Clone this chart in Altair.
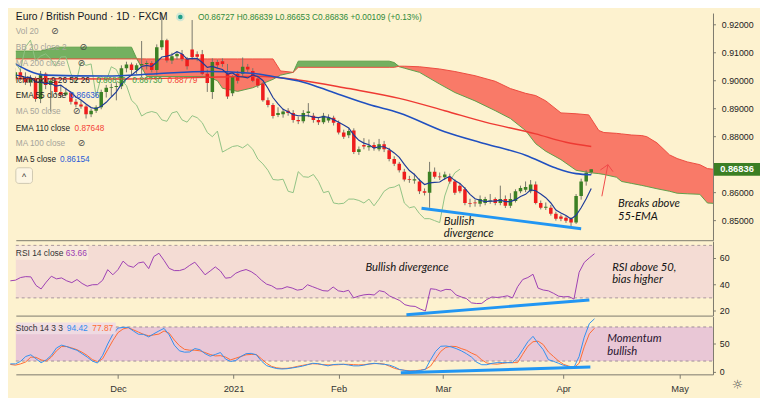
import altair as alt
import pandas as pd

# ---------------- values ----------------
# bar index = trading day, 0 = 2 Nov 2020 ... 114 = 9 Apr 2021
bar_idx = list(range(115))

opens = [
    .9010, .9030, .9012, .8995, .9010, .8935, .9025, .8985, .9000, .8960,
    .8950, .8958, .8925, .8915, .8908, .8880, .8893, .8905, .8960, .8975,
    .8978, .8980, .9045, .9058, .9038, .9055, .9060, .9063, .9038, .9120,
    .9145, .9072, .9088, .9096, .9078, .9112, .9095, .9095, .9025, .8960,
    .9067, .9070, .9025, .8955, .9025, .9025, .9050, .9035, .9008, .8990,
    .8930, .8913, .8878, .8880, .8893, .8885, .8860, .8855, .8885, .8875,
    .8860, .8852, .8858, .8868, .8850, .8815, .8805, .8822, .8745, .8770,
    .8762, .8770, .8755, .8773, .8752, .8720, .8703, .8675, .8648, .8643,
    .8640, .8605, .8600, .8675, .8657, .8655, .8657, .8640, .8625, .8612,
    .8563, .8563, .8560, .8563, .8568, .8577, .8563, .8577, .8553, .8570,
    .8605, .8610, .8605, .8629, .8563, .8546, .8546, .8525, .8515, .8510,
    .8507, .8493, .8588, .8640, .86727]
highs = [
    .9045, .9040, .9030, .9020, .9015, .9035, .9030, .9010, .9010, .8985,
    .8975, .8962, .8935, .8930, .8915, .8900, .8912, .8968, .8985, .8990,
    .8995, .9055, .9068, .9065, .9062, .9142, .9072, .9070, .9130, .9265,
    .9150, .9100, .9105, .9110, .9085, .9217, .9105, .9110, .9040, .9080,
    .9075, .9080, .9060, .9020, .9035, .9083, .9060, .9045, .9015, .8995,
    .8940, .8920, .8905, .8900, .8902, .8895, .8872, .8895, .8920, .8885,
    .8870, .8885, .8880, .8875, .8858, .8825, .8830, .8830, .8765, .8795,
    .8790, .8780, .8792, .8785, .8760, .8730, .8710, .8685, .8660, .8668,
    .8650, .8615, .8710, .8690, .8672, .8675, .8668, .8648, .8635, .8620,
    .8578, .8575, .8590, .8585, .8595, .8583, .8625, .8590, .8598, .8612,
    .8625, .8640, .8645, .8640, .8572, .8565, .8556, .8532, .8522, .8516,
    .8512, .8595, .8650, .8680, .86839]
lows = [
    .9000, .9000, .8985, .8980, .8925, .8920, .8970, .8890, .8950, .8940,
    .8945, .8915, .8905, .8900, .8865, .8870, .8885, .8898, .8940, .8945,
    .8930, .8970, .9030, .9020, .9025, .9013, .9040, .9030, .9020, .9110,
    .9065, .9060, .9075, .9070, .9040, .9075, .9070, .9020, .8960, .8935,
    .9045, .9050, .8935, .8945, .8990, .9015, .9030, .8995, .8975, .8925,
    .8905, .8865, .8870, .8868, .8875, .8850, .8845, .8848, .8870, .8850,
    .8842, .8845, .8850, .8840, .8808, .8792, .8795, .8738, .8735, .8755,
    .8750, .8750, .8748, .8745, .8712, .8695, .8672, .8640, .8635, .8632,
    .8595, .8590, .8546, .8650, .8645, .8645, .8632, .8592, .8598, .8555,
    .8548, .8550, .8550, .8555, .8560, .8555, .8555, .8545, .8545, .8565,
    .8598, .8602, .8598, .8558, .8540, .8538, .8518, .8500, .8498, .8492,
    .8475, .8488, .8575, .8625, .86653]
closes = [
    .9030, .9012, .8995, .9010, .8935, .9025, .8985, .9000, .8960, .8950,
    .8958, .8925, .8915, .8908, .8880, .8893, .8905, .8960, .8975, .8978,
    .8980, .9045, .9058, .9038, .9055, .9060, .9063, .9038, .9120, .9145,
    .9072, .9088, .9096, .9078, .9052, .9085, .9086, .9025, .8992, .9067,
    .9055, .9060, .8944, .9015, .9000, .9050, .9040, .9000, .8983, .8930,
    .8913, .8874, .8885, .8890, .8885, .8860, .8855, .8885, .8890, .8860,
    .8852, .8875, .8868, .8850, .8815, .8800, .8820, .8745, .8755, .8765,
    .8768, .8760, .8773, .8755, .8720, .8703, .8680, .8647, .8645, .8648,
    .8605, .8600, .8675, .8657, .8655, .8665, .8640, .8600, .8605, .8563,
    .8560, .8562, .8577, .8577, .8572, .8563, .8577, .8553, .8577, .8605,
    .8617, .8620, .8629, .8563, .8546, .8550, .8525, .8507, .8507, .8500,
    .8493, .8588, .8640, .8671, .86836]
ma5 = [
    .9020, .9018, .9012, .9012, .8996, .8995, .8990, .8991, .8981, .8984,
    .8971, .8959, .8942, .8931, .8917, .8904, .8900, .8909, .8923, .8942,
    .8960, .8988, .9007, .9020, .9035, .9051, .9055, .9051, .9067, .9085,
    .9088, .9093, .9104, .9096, .9077, .9080, .9079, .9065, .9048, .9051,
    .9045, .9040, .9024, .9028, .9015, .9014, .9010, .9021, .9015, .9001,
    .8973, .8940, .8917, .8898, .8889, .8879, .8875, .8875, .8875, .8870,
    .8868, .8872, .8869, .8861, .8852, .8842, .8831, .8806, .8787, .8777,
    .8771, .8759, .8764, .8764, .8755, .8742, .8726, .8701, .8679, .8665,
    .8645, .8629, .8635, .8637, .8638, .8650, .8658, .8643, .8633, .8615,
    .8594, .8578, .8573, .8568, .8570, .8570, .8573, .8568, .8568, .8575,
    .8586, .8594, .8610, .8607, .8595, .8582, .8563, .8538, .8527, .8518,
    .8506, .8519, .8546, .8578, .8615]
rsi14 = [
    43, 43.5, 45.5, 46.2, 46, 39.5, 36.8, 42, 46.5, 44.5,
    45.2, 43, 41.6, 44, 41, 38.9, 40, 40.1, 43.4, 51.5,
    47.6, 51.5, 58, 54.5, 53.3, 56.6, 57.4, 52.3, 61.5, 64,
    58.5, 52.5, 50.8, 50.8, 52, 54.8, 57.2, 52.5, 47.6, 50.5,
    53.6, 50.5, 45, 45.5, 48.8, 50.5, 51.6, 50, 47.3, 43.5,
    40.5, 39.2, 36.8, 37, 38.5, 37.5, 35.9, 36.5, 40, 38.5,
    37, 35.5, 35.2, 38.3, 35.4, 34.7, 35.8, 30, 31.4, 32.3,
    32.7, 32.2, 35.5, 34.6, 31.5, 29.7, 28, 24.8, 23.8, 23.5,
    21.5, 20, 37, 36.5, 35.1, 36.5, 36.2, 32.2, 30.7, 29.5,
    26.2, 25.7, 25.8, 28.8, 30.7, 30.3, 30.8, 31.6, 30, 38.5,
    44, 45.5, 48, 37.4, 36, 35.4, 33.5, 31.3, 30.8, 31,
    29.1, 49.5, 57, 60.5, 63.66]
stoch_k = [
    15, 15, 19.5, 28, 31, 24, 17, 22, 30, 43,
    48, 45.5, 42, 39, 33, 27, 20, 16.5, 30, 50,
    67, 78, 79.3, 79.3, 73, 67.2, 67, 62.5, 68, 73,
    77.5, 66, 48, 38, 35.6, 36, 42, 40, 33, 28.5,
    31.6, 35, 23.5, 19.2, 21, 28, 33, 33.5, 31, 20,
    12, 9, 6.7, 6, 6.5, 7.8, 9.3, 11, 13.5, 16,
    15.5, 13.5, 11.5, 13.8, 14.3, 14.3, 13, 11.5, 11.5, 12.8,
    14.7, 16, 15, 14.2, 12.8, 9.5, 5, 3.5, 2.2, 2.6,
    3.3, 5.5, 22, 37, 46, 46.5, 45, 42, 38, 33,
    27, 18, 13.5, 13.5, 16, 17.2, 17.2, 17.2, 17.2, 26,
    40, 54, 63.5, 51, 40, 22.5, 19.5, 16, 12.3, 10,
    8.8, 28, 62, 86, 94.42]
stoch_d = [
    14, 12.8, 15, 18.4, 27, 26.5, 22, 20, 27, 38,
    45.5, 45.5, 43, 40, 35.5, 29.8, 22.5, 19, 24, 40,
    56, 70, 76.5, 78.8, 75, 71, 67, 64.5, 66, 67.5,
    73, 69, 57, 47, 40.5, 39.1, 39.1, 38, 35, 31.5,
    29, 29.5, 27, 22, 25, 28, 31, 31.6, 31.6, 24,
    16, 10.5, 8, 7, 7.2, 8.5, 10.5, 12.3, 14, 15.3,
    14.8, 13.6, 13.2, 13.2, 13.5, 14.2, 14.2, 13.6, 13.2, 13.6,
    14.8, 15.5, 15.8, 14.5, 11, 7, 4.8, 3.6, 3, 2.9,
    4, 5.5, 11, 24, 37, 44, 46, 45.5, 42, 39,
    34, 30, 22, 16.5, 15, 14.5, 15.8, 17.2, 17.2, 17.2,
    32, 46, 54, 55, 49, 36, 28, 20, 14, 11,
    8.6, 16, 45, 68, 77.87]

ema55_x = [-0.5, 6, 18, 28, 38, 46, 51, 57, 63, 70, 76, 85, 93, 101, 107, 111, 114]
ema55_v = [.9066, .9020, .9017, .9025, .9033, .9028, .9015, .8995, .8958, .8915,
           .8885, .8818, .8775, .8734, .8688, .8668, .8664]
ema110_x = [-0.5, 20, 40, 48, 56, 66, 76, 85, 93, 103, 109, 114]
ema110_v = [.9008, .9006, .9013, .9016, .9003, .8972, .8937, .8893, .8852, .8810, .8780, .8765]

cloud_x = [-0.5, 5, 8, 20, 23, 24, 26, 38, 40, 41, 44, 47, 49, 51, 52.5, 55, 56, 74, 75, 76,
           77, 80, 84, 87, 91, 95, 98, 101, 103, 105, 108, 111, 113.5, 115.5, 116.5, 119, 120,
           122, 124, 125, 127, 129.5, 131, 133, 135.5, 137, 140]
lead_a = [.9106, .9106, .9120, .9120, .9120, .9080, .9015, .9015, .9000, .8973, .8962, .8975,
          .8990, .9005, .9020, .9030, .9070, .9070, .9065, .9050, .9045, .9030, .8988, .8958,
          .8928, .8893, .8865, .8822, .8775, .8748, .8718, .8680, .8672, .8668, .8665, .8655,
          .8640, .8633, .8626, .8622, .8614, .8605, .8598, .8596, .8594, .8563, .8560]
lead_b = [.9078, .9078, .9078, .9078, .9078, .9078, .9078, .9078, .9078, .9078, .9078, .9078,
          .9078, .9078, .9035, .9030, .9048, .9048, .9048, .9052, .9052, .9050, .9042, .9033,
          .9018, .8998, .8972, .8955, .8947, .8928, .8885, .8882, .8878, .8822, .8815, .8812,
          .8810, .8806, .8804, .8800, .8778, .8735, .8722, .8710, .8700, .8686, .8680]

month_ticks = [21, 43.55, 64.07, 84.45, 107.9, 130.6]
month_labels = ["Dec", "2021", "Feb", "Mar", "Apr", "May"]
price_ticks = [0.85, 0.86, 0.88, 0.89, 0.90, 0.91, 0.92]   # 0.87 sits under the last-price tag
price_tick_labels = ["0.85000", "0.86000", "0.88000", "0.89000", "0.90000", "0.91000", "0.92000"]
rsi_ticks = [20, 40, 60]
stoch_ticks = [0, 50]

div_price_x = [80.4, 112.0]
div_price_v = [0.8544, 0.8471]
div_rsi_x = [77.3, 113.0]
div_rsi_v = [17.2, 28.4]
div_stoch_x = [76.2, 113.2]
div_stoch_v = [-0.5, 9.5]
arrow_x1 = [116.1, 115.8, 118.3]
arrow_v1 = [0.8587, 0.8681, 0.8675]
arrow_x2 = [117.3, 117.3, 117.3]
arrow_v2 = [0.8700, 0.8700, 0.8700]
last_close = 0.86836

# ---------------- styling ----------------
BG = "#fdf2cf"
AXC = "#7b786c"
UP = "#3c8024"
DOWN = "#ee1d1d"
WICK = "#77766a"
DIVC = "#2196f3"
FONT = "Liberation Sans"
W = 712
HP, HR, HS = 232, 76, 59

xs = alt.Scale(domain=[1.07, 137.13], nice=False, zero=False)
ysp = alt.Scale(domain=[0.8430, 0.9242], nice=False, zero=False)
ysr = alt.Scale(domain=[16.5, 73.2], nice=False, zero=False)
yss = alt.Scale(domain=[-3.45, 98.3], nice=False, zero=False)

x_hidden = alt.Axis(labels=False, ticks=False, grid=False, domain=True,
                    domainColor=AXC, title=None)
y_right = alt.Axis(orient="right", labels=False, ticks=False, grid=False, domain=True,
                   domainColor=AXC, title=None)

ONE = pd.DataFrame({"z": [0]})


def XQ(f, axis=None):
    if axis is None:
        return alt.X(f"{f}:Q", scale=xs, title=None)
    return alt.X(f"{f}:Q", scale=xs, axis=axis, title=None)


def YQ(f, scale, axis=None):
    if axis is None:
        return alt.Y(f"{f}:Q", scale=scale, title=None)
    return alt.Y(f"{f}:Q", scale=scale, axis=axis, title=None)


def texts(rows, size, font=FONT, style="normal", weight="normal", align="left"):
    out = []
    for t, px, py, col in rows:
        out.append(alt.Chart(ONE).mark_text(
            align=align, baseline="middle", fontSize=size, font=font, fontStyle=style,
            fontWeight=weight, color=col, text=t).encode(x=alt.value(px), y=alt.value(py)))
    return out


def box(x1, x2, y1, y2, **kw):
    return alt.Chart(ONE).mark_rect(**kw).encode(
        x=alt.value(x1), x2=alt.value(x2), y=alt.value(y1), y2=alt.value(y2))


def y_labels(values, labels, scale, lx):
    d = pd.DataFrame({"v": values, "t": labels})
    ticks = alt.Chart(d).mark_rule(color=AXC, strokeWidth=1).encode(
        x=alt.value(W), x2=alt.value(W + 3), y=YQ("v", scale))
    txt = alt.Chart(d).mark_text(align="left", baseline="middle", fontSize=9, font=FONT,
                                 color="#222").encode(
        x=alt.value(lx), y=YQ("v", scale), text="t:N")
    return [ticks, txt]


df = pd.DataFrame({"i": bar_idx, "o": opens, "h": highs, "l": lows, "c": closes,
                   "ma5": ma5, "rsi": rsi14, "k": stoch_k, "d": stoch_d})
df["dir"] = ["up" if c >= o else "down" for o, c in zip(df.o, df.c)]
df["blo"] = df[["o", "c"]].min(axis=1)
df["bhi"] = [max(max(o, c), min(o, c) + 0.0003) for o, c in zip(df.o, df.c)]
df["lag_i"] = df["i"] - 26

cl = pd.DataFrame({"x": cloud_x, "a": lead_a, "b": lead_b})
cl["gt"] = cl[["a", "b"]].max(axis=1)
cl["rb"] = cl[["a", "b"]].min(axis=1)

# ---------------- price panel ----------------
cloud_g = alt.Chart(cl).mark_area(color="#74b060", clip=True).encode(
    x=XQ("x", x_hidden), y=YQ("gt", ysp, y_right), y2="b:Q")
cloud_r = alt.Chart(cl).mark_area(color="#f97a68", clip=True).encode(
    x=XQ("x"), y=YQ("b", ysp), y2="rb:Q")
line_a = alt.Chart(cl).mark_line(color="#5da04a", strokeWidth=1, clip=True).encode(
    x=XQ("x"), y=YQ("a", ysp))
line_b = alt.Chart(cl).mark_line(color="#ec4a3e", strokeWidth=1, clip=True).encode(
    x=XQ("x"), y=YQ("b", ysp))
chikou = alt.Chart(df).mark_line(color="#8fc283", strokeWidth=1, clip=True).encode(
    x=XQ("lag_i"), y=YQ("c", ysp))
wicks = alt.Chart(df).mark_rule(color=WICK, strokeWidth=1, clip=True).encode(
    x=XQ("i"), y=YQ("l", ysp), y2="h:Q")
bodies = alt.Chart(df).mark_bar(size=3.6, clip=True).encode(
    x=XQ("i"), y=YQ("blo", ysp), y2="bhi:Q",
    color=alt.Color("dir:N", scale=alt.Scale(domain=["up", "down"], range=[UP, DOWN]), legend=None))
ema110 = alt.Chart(pd.DataFrame({"x": ema110_x, "v": ema110_v})).mark_line(
    color="#ee3a33", strokeWidth=1.5, interpolate="monotone", clip=True).encode(
    x=XQ("x"), y=YQ("v", ysp))
ema55 = alt.Chart(pd.DataFrame({"x": ema55_x, "v": ema55_v})).mark_line(
    color="#2050c0", strokeWidth=1.6, interpolate="monotone", clip=True).encode(
    x=XQ("x"), y=YQ("v", ysp))
ma5_line = alt.Chart(df).mark_line(color="#1f3c99", strokeWidth=1.2, clip=True).encode(
    x=XQ("i"), y=YQ("ma5", ysp))
div_p = alt.Chart(pd.DataFrame({"x": div_price_x, "v": div_price_v})).mark_line(
    color=DIVC, strokeWidth=3).encode(x=XQ("x"), y=YQ("v", ysp))
arrow = alt.Chart(pd.DataFrame({"x": arrow_x1, "v": arrow_v1, "x2": arrow_x2, "v2": arrow_v2})).mark_rule(
    color="#f04848", strokeWidth=1).encode(
    x=XQ("x"), x2="x2:Q", y=YQ("v", ysp), y2="v2:Q")
tag_df = pd.DataFrame({"c": [last_close], "t": [f"{last_close:.5f}"],
                       "yt": [last_close + 0.00228], "yb": [last_close - 0.00228]})
tag = alt.Chart(tag_df).mark_rect(color="#3b7f24").encode(
    x=alt.value(713), x2=alt.value(760), y=YQ("yt", ysp), y2="yb:Q")
tag_txt = alt.Chart(tag_df).mark_text(color="white", fontSize=9.5, fontWeight="bold", font=FONT).encode(
    x=alt.value(736.5), y=YQ("c", ysp), text="t:N")

dot_halo = alt.Chart(ONE).mark_circle(size=80, color="#cfe7d4", opacity=1).encode(
    x=alt.value(168), y=alt.value(4))
dot = alt.Chart(ONE).mark_circle(size=22, color="#1f9e89", opacity=1).encode(
    x=alt.value(168), y=alt.value(4))
btn = box(0, 17, 158, 174, fill="#fdf6e3", stroke="#cfc8b0", cornerRadius=3)

GRAY = "#a6a49a"
DARK = "#222"
deco = []
deco += texts([("Euro / British Pound · 1D · FXCM", 0, 4, "#131722")], 10.5)
deco += texts([("O0.86727 H0.86839 L0.86653 C0.86836 +0.00109 (+0.13%)", 186, 4, "#2f8a3a")], 8.5)
deco += texts([("Ichimoku 9 26 52 26", 0, 68, DARK), ("EMA 55 close", 0, 84, DARK),
               ("EMA 110 close", 0, 117, DARK), ("MA 5 close", 0, 149, DARK),
               ("Vol 20", 0, 18, GRAY), ("BB 20 close 2", 0, 35, GRAY),
               ("MA 200 close", 0, 51, GRAY), ("MA 50 close", 0, 100, GRAY),
               ("MA 100 close", 0, 133, GRAY),
               ("0.86836", 82, 68, "#43a047"), ("0.86730", 119, 68, "#43a047"),
               ("0.88779", 155, 68, "#f44336"), ("0.86636", 55, 84, "#2a5bd7"),
               ("0.87648", 60, 117, "#f44336"), ("0.86154", 45, 149, "#2a5bd7")], 8.4)
deco += texts([("⊘", 36, 18, "#4a4a4a"), ("⊘", 65, 35, "#4a4a4a"), ("⊘", 63, 51, "#4a4a4a"),
               ("⊘", 58, 100, "#4a4a4a"), ("⊘", 63, 133, "#4a4a4a")], 9.5, font="DejaVu Sans")
deco += texts([("^", 8.5, 168, "#333")], 9, align="center")
deco += texts([("Bullish", 437, 213, "#151515"), ("divergence", 437, 226, "#151515"),
               ("Breaks above", 615, 195, "#151515"), ("55-EMA", 615, 208, "#151515")],
              11.5, font="Lato", style="italic")

price = alt.layer(cloud_g, cloud_r, line_a, line_b, chikou, wicks, bodies, ema110, ema55, ma5_line,
                  div_p, arrow, *y_labels(price_ticks, price_tick_labels, ysp, W + 9),
                  tag, tag_txt, dot_halo, dot, btn, *deco).properties(width=W, height=HP)

# ---------------- RSI panel ----------------
rsi_band = alt.Chart(pd.DataFrame({"lo": [30], "hi": [70]})).mark_rect(color="#f4dcd4").encode(
    x=alt.value(0), x2=alt.value(W), y=YQ("hi", ysr, y_right), y2="lo:Q")
rsi_lv = alt.Chart(pd.DataFrame({"lv": [70, 30]})).mark_rule(
    color="#a8979c", strokeDash=[3, 3], strokeWidth=1).encode(
    x=alt.value(0), x2=alt.value(W), y=YQ("lv", ysr))
rsi_line = alt.Chart(df).mark_line(color="#9c3db2", strokeWidth=1).encode(
    x=XQ("i", x_hidden), y=YQ("rsi", ysr))
div_r = alt.Chart(pd.DataFrame({"x": div_rsi_x, "v": div_rsi_v})).mark_line(
    color=DIVC, strokeWidth=3).encode(x=XQ("x"), y=YQ("v", ysr))
rsi_box = box(0, 74, 5, 19, fill="#f8eadc", opacity=0.9)
rsi_deco = texts([("RSI 14 close", 0, 12, "#333"), ("63.66", 51, 12, "#9c3db2")], 8.6)
rsi_deco += texts([("Bullish divergence", 357, 27.5, "#151515"), ("RSI above 50,", 609, 27, "#151515"),
                   ("bias higher", 609, 40, "#151515")], 11.5, font="Lato", style="italic")

rsi_c = alt.layer(rsi_band, rsi_lv, rsi_line, div_r, rsi_box,
                  *y_labels(rsi_ticks, [str(v) for v in rsi_ticks], ysr, W + 7),
                  *rsi_deco).properties(width=W, height=HR)

# ---------------- Stochastic panel ----------------
month_expr = " : ".join(f"datum.value == {v} ? '{t}'" for v, t in zip(month_ticks, month_labels)) + " : ''"
x_months = alt.Axis(values=month_ticks, labelExpr=month_expr, tickSize=4, tickColor=AXC,
                    domainColor=AXC, labelPadding=6, labelFontSize=9.5, labelColor="#333",
                    grid=False, title=None, labelFlush=False, labelOverlap=False, labelFont=FONT)
st_band = alt.Chart(pd.DataFrame({"lo": [20], "hi": [80]})).mark_rect(color="#e9c7d6").encode(
    x=alt.value(0), x2=alt.value(W), y=YQ("hi", yss, y_right), y2="lo:Q")
st_lv = alt.Chart(pd.DataFrame({"lv": [80, 20]})).mark_rule(
    color="#9e8c98", strokeDash=[3, 3], strokeWidth=1).encode(
    x=alt.value(0), x2=alt.value(W), y=YQ("lv", yss))
st_d = alt.Chart(df).mark_line(color="#ff6a30", strokeWidth=1).encode(
    x=XQ("i", x_months), y=YQ("d", yss))
st_k = alt.Chart(df).mark_line(color="#2f8ff0", strokeWidth=1).encode(
    x=XQ("i"), y=YQ("k", yss))
div_s = alt.Chart(pd.DataFrame({"x": div_stoch_x, "v": div_stoch_v})).mark_line(
    color=DIVC, strokeWidth=3).encode(x=XQ("x"), y=YQ("v", yss))
st_box = box(0, 102, 6, 18, fill="#efdbe3", opacity=0.9)
st_deco = texts([("Stoch 14 3 3", 0, 12, "#333"), ("94.42", 52, 12, "#2f8ff0"),
                 ("77.87", 78, 12, "#ff6a30")], 8.6)
st_deco += texts([("Momentum", 604, 23, "#2a1530"), ("bullish", 604, 36, "#2a1530")],
                 11.5, font="Lato", style="italic")
st_deco += texts([("☼", 737, 70, "#555")], 13, font="DejaVu Sans", align="center")

stoch_c = alt.layer(st_band, st_lv, st_d, st_k, div_s, st_box,
                    *y_labels(stoch_ticks, [str(v) for v in stoch_ticks], yss, W + 7),
                    *st_deco).properties(width=W, height=HS)

chart = alt.vconcat(price, rsi_c, stoch_c, spacing=1, bounds="flush").properties(
    padding=0).configure(background=BG).configure_view(stroke=None).configure_axis(grid=False)

chart.save("out.html", embed_options={"renderer": "svg", "actions": False})
